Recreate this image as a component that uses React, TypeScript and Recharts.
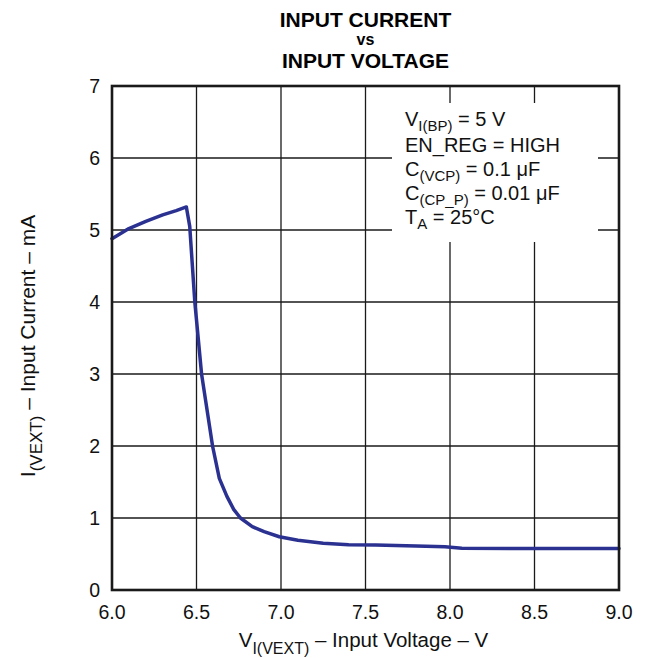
import React from "react";
import { LineChart, Line, XAxis, YAxis, CartesianGrid } from "recharts";

const voltage = [6.0, 6.1, 6.2, 6.3, 6.38, 6.44, 6.46, 6.49, 6.53, 6.595, 6.635, 6.68, 6.72, 6.76, 6.83, 6.9, 6.99, 7.1, 7.25, 7.4, 7.56, 7.8, 7.97, 8.07, 8.5, 9.0];
const current = [4.88, 5.02, 5.12, 5.21, 5.27, 5.32, 5.05, 4.0, 3.0, 2.0, 1.55, 1.3, 1.12, 1.0, 0.88, 0.81, 0.74, 0.69, 0.65, 0.63, 0.625, 0.61, 0.6, 0.58, 0.575, 0.575];
const xTicks = [6.0, 6.5, 7.0, 7.5, 8.0, 8.5, 9.0];
const yTicks = [0, 1, 2, 3, 4, 5, 6, 7];
const titleLines = ["INPUT CURRENT", "vs", "INPUT VOLTAGE"];

const data = voltage.map((v, i) => ({ v, i: current[i] }));

const FONT = "'Liberation Sans', Arial, Helvetica, sans-serif";
const W = 648;
const H = 658;
const PL = 112, PR = 619, PT = 86, PB = 590;

export default function App() {
  return (
    <div style={{ position: "absolute", left: 0, top: 0, width: W, height: H, background: "#fff", fontFamily: FONT }}>
      <LineChart width={W} height={H} data={data} margin={{ top: PT, right: W - PR, left: PL - 40, bottom: H - PB - 30 }}>
        <CartesianGrid stroke="#1a1a1a" strokeWidth={1.3} />
        <XAxis
          dataKey="v"
          type="number"
          domain={[6, 9]}
          ticks={xTicks}
          tickFormatter={(t: number) => t.toFixed(1)}
          axisLine={false}
          tickLine={false}
          tickMargin={9}
          height={30}
          tick={{ fill: "#111", fontSize: 19.5, fontFamily: FONT }}
          interval={0}
        />
        <YAxis
          type="number"
          domain={[0, 7]}
          ticks={yTicks}
          axisLine={false}
          tickLine={false}
          tickMargin={6}
          width={40}
          tick={{ fill: "#111", fontSize: 19.5, fontFamily: FONT }}
          interval={0}
        />
        <Line dataKey="i" type="linear" stroke="#2b3191" strokeWidth={3.5} dot={false} isAnimationActive={false} strokeLinejoin="round" strokeLinecap="round" />
      </LineChart>
      <svg width={W} height={H} style={{ position: "absolute", left: 0, top: 0, pointerEvents: "none" }} fontFamily={FONT}>
        <rect x={392} y={103} width={206} height={139} fill="#fff" />
        <rect x={PL} y={PT} width={PR - PL} height={PB - PT} fill="none" stroke="#1a1a1a" strokeWidth={2.6} />
        <g fill="#000" fontWeight="bold" textAnchor="middle">
          <text x={365.5} y={26.5} fontSize={21}>{titleLines[0]}</text>
          <text x={365.5} y={44.5} fontSize={16}>{titleLines[1]}</text>
          <text x={365.5} y={67.5} fontSize={21}>{titleLines[2]}</text>
        </g>
        <g fill="#111" fontSize={20}>
          <text x={405} y={126}>V<tspan fontSize={15} dy={5}>I(BP)</tspan><tspan dy={-5}> = 5 V</tspan></text>
          <text x={405} y={152}>EN_REG = HIGH</text>
          <text x={405} y={176}>C<tspan fontSize={15} dy={5}>(VCP)</tspan><tspan dy={-5}> = 0.1 μF</tspan></text>
          <text x={405} y={200}>C<tspan fontSize={15} dy={5}>(CP_P)</tspan><tspan dy={-5}> = 0.01 μF</tspan></text>
          <text x={405} y={224}>T<tspan fontSize={15} dy={5}>A</tspan><tspan dy={-5}> = 25°C</tspan></text>
        </g>
        <text x={363.5} y={647} fontSize={20.5} fill="#111" textAnchor="middle">
          V<tspan fontSize={16} dy={7}>I(VEXT)</tspan><tspan dy={-7}> – Input Voltage – V</tspan>
        </text>
        <text transform="translate(35,346) rotate(-90)" fontSize={21} fill="#111" textAnchor="middle">
          I<tspan fontSize={17} dy={7}>(VEXT)</tspan><tspan dy={-7}> – Input Current – mA</tspan>
        </text>
      </svg>
    </div>
  );
}
